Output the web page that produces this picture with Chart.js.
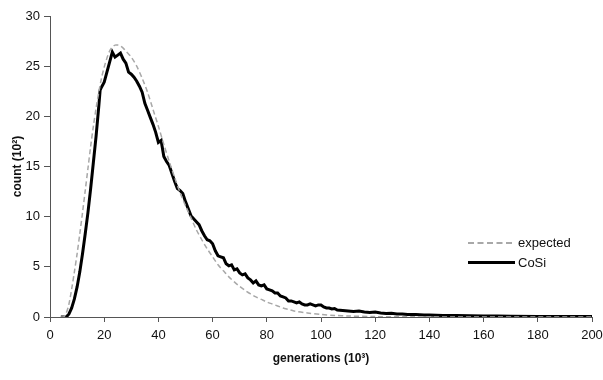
<!DOCTYPE html>
<html>
<head>
<meta charset="utf-8">
<script src="https://cdn.jsdelivr.net/npm/chart.js@4"></script>
<style>
  body { margin: 0; background: #fff; }
  #wrap { position: relative; width: 603px; height: 380px; }
  #legend { position: absolute; left: 468px; top: 233px; font: 13px "Liberation Sans", Arial, sans-serif; color: #111; }
  .row { display: flex; align-items: center; height: 19.5px; }
  .sample { width: 44px; margin-right: 6px; }
  .dash { border-top: 2px dashed #a8a8a8; }
  .solid { border-top: 3.5px solid #000; width: 47px; margin-right: 3px; }
</style>
</head>
<body>
<div id="wrap">
  <canvas id="chart" width="603" height="380"></canvas>
  <div id="legend">
    <div class="row"><span class="sample dash"></span>expected</div>
    <div class="row"><span class="sample solid"></span>CoSi</div>
  </div>
</div>
<script>
// generations (10^3) and counts (10^2)
const expectedX = [4, 5, 6, 7, 8, 9, 10, 11, 12, 13, 14, 15, 16, 17, 18, 19, 20, 21, 22, 23, 24, 25, 26, 27, 28,
  30, 32, 34, 36, 38, 40, 42, 44, 46, 48, 50, 52, 54, 56, 58, 60, 62, 64, 66, 68, 70, 72, 74, 76, 78, 80,
  82, 84, 86, 88, 90, 95, 100, 105, 110, 120, 140, 200];
const expectedY = [0, 0, 0.4, 1.3, 2.8, 4.5, 6.3, 8.3, 10.4, 12.6, 14.8, 17.0, 19.0, 20.8, 22.4, 23.8, 24.9, 25.8, 26.5, 26.9, 27.1, 27.1, 27.0, 26.8, 26.5,
  25.9, 25.0, 23.8, 22.4, 20.7, 19.0, 17.2, 15.5, 13.9, 12.4, 11.1, 9.9, 8.7, 7.7, 6.8, 6.0, 5.2, 4.6, 4.0, 3.5, 3.05, 2.65, 2.3, 2.0, 1.75, 1.5,
  1.3, 1.1, 0.9, 0.75, 0.6, 0.4, 0.25, 0.16, 0.1, 0.04, 0.01, 0];

const cosiX = [4, 5, 6, 7, 8, 9, 10, 11, 12, 13, 14, 15, 16, 17, 18, 18.5, 19, 20, 21, 22, 23, 24, 25, 26, 27, 28, 29,
  30, 31, 32, 33, 34, 35, 36, 37, 38, 39, 40, 41, 42, 43, 44, 45, 46, 47, 48, 49, 50, 51, 52, 53, 54, 55, 56, 57, 58, 59,
  60, 61, 62, 63, 64, 65, 66, 67, 68, 69, 70, 71, 72, 73, 74, 75, 76, 77, 78, 79, 80, 81, 82, 83, 84, 85, 86, 87, 88, 89,
  90, 91, 92, 93, 94, 95, 96, 97, 98, 99, 100, 101, 102, 103, 104, 105, 106, 108, 110, 112, 114, 116, 118, 120,
  122, 124, 126, 128, 130, 132, 135, 138, 140, 145, 150, 155, 160, 165, 170, 180, 190, 200];
const cosiY = [0, 0, 0, 0.3, 0.9, 1.8, 3.0, 4.5, 6.3, 8.3, 10.4, 12.8, 15.4, 18.0, 21.0, 22.6, 22.9, 23.4, 24.4, 25.4, 26.4, 25.9, 26.1, 26.3, 25.7, 25.3, 24.4,
  24.2, 23.9, 23.5, 23.0, 22.4, 21.3, 20.6, 19.9, 19.2, 18.4, 17.4, 17.6, 16.0, 15.5, 15.1, 14.3, 13.5, 12.8, 12.6, 12.3, 11.5, 10.8, 10.1, 9.8, 9.5, 9.2, 8.6, 8.1, 7.7, 7.6,
  7.3, 6.6, 6.1, 6.0, 5.9, 5.3, 5.1, 5.2, 4.7, 4.8, 4.4, 4.2, 4.3, 3.9, 3.7, 3.4, 3.6, 3.2, 3.1, 3.2, 2.8, 2.7, 2.6, 2.4, 2.4, 2.1, 2.0, 1.9, 1.6, 1.6,
  1.5, 1.4, 1.5, 1.3, 1.2, 1.2, 1.3, 1.2, 1.1, 1.2, 1.2, 1.0, 0.9, 0.9, 0.8, 0.85, 0.7, 0.65, 0.6, 0.55, 0.6, 0.5, 0.45, 0.5,
  0.4, 0.35, 0.38, 0.3, 0.3, 0.25, 0.25, 0.2, 0.2, 0.15, 0.15, 0.12, 0.1, 0.1, 0.08, 0.06, 0.05, 0.05];

const xTicks = [0, 20, 40, 60, 80, 100, 120, 140, 160, 180, 200];
const yTicks = [0, 5, 10, 15, 20, 25, 30];

const toPoints = (xs, ys) => xs.map((x, i) => ({ x: x, y: ys[i] }));
const axisColor = '#555';
const tickFont = { family: '"Liberation Sans", Arial, sans-serif', size: 13 };
const titleFont = { family: '"Liberation Sans", Arial, sans-serif', size: 12, weight: 'bold' };

new Chart(document.getElementById('chart').getContext('2d'), {
  type: 'line',
  data: {
    datasets: [
      {
        label: 'expected',
        data: toPoints(expectedX, expectedY),
        borderColor: '#a8a8a8', borderWidth: 1.5, borderDash: [5, 3],
        pointRadius: 0, tension: 0.3, fill: false
      },
      {
        label: 'CoSi',
        data: toPoints(cosiX, cosiY),
        borderColor: '#000', borderWidth: 3,
        pointRadius: 0, tension: 0, fill: false
      }
    ]
  },
  options: {
    responsive: false,
    animation: false,
    layout: { padding: { left: 0, right: 11, top: 16, bottom: 0 } },
    plugins: { legend: { display: false }, tooltip: { enabled: false } },
    scales: {
      x: {
        type: 'linear', min: 0, max: 200,
        afterBuildTicks: s => { s.ticks = xTicks.map(v => ({ value: v })); },
        afterFit: s => { s.height = 63; s.paddingLeft = 0; s.paddingRight = 0; },
        border: { color: axisColor, width: 1 },
        grid: { drawOnChartArea: false, drawTicks: true, tickLength: 5, color: axisColor },
        ticks: { color: '#111', font: tickFont, padding: 6, maxRotation: 0 },
        title: { display: true, text: 'generations (10³)', color: '#111', font: titleFont, padding: { top: 4, bottom: 14 } }
      },
      y: {
        min: 0, max: 30,
        afterBuildTicks: s => { s.ticks = yTicks.map(v => ({ value: v })); },
        afterFit: s => { s.width = 50; s.paddingTop = 0; s.paddingBottom = 0; },
        border: { color: axisColor, width: 1 },
        grid: { drawOnChartArea: false, drawTicks: true, tickLength: 6, color: axisColor },
        ticks: { color: '#111', font: tickFont, padding: 4 },
        title: { display: true, text: 'count (10²)', color: '#111', font: titleFont, padding: { top: 10, bottom: 0 } }
      }
    }
  }
});
</script>
</body>
</html>
